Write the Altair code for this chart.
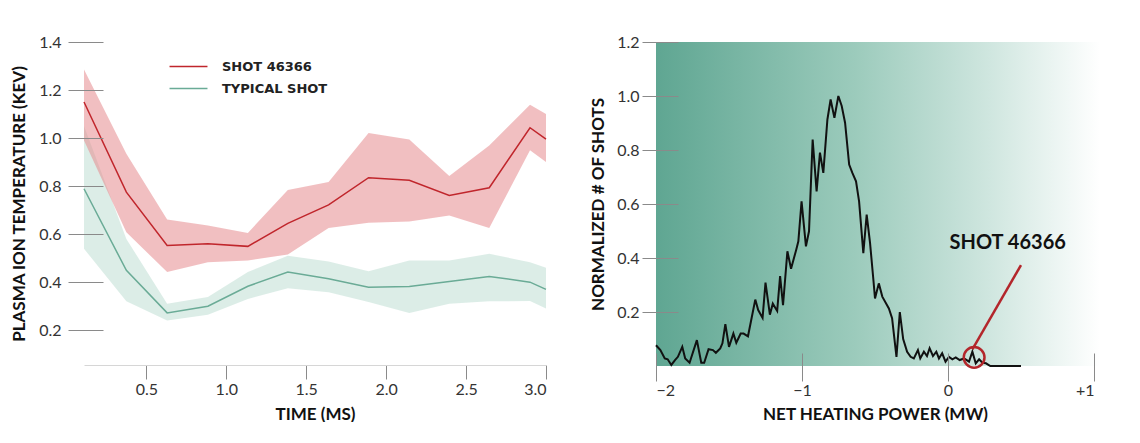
import altair as alt
import pandas as pd

# ---------------- left panel data ----------------
time_ms = [0.11, 0.375, 0.63, 0.885, 1.135, 1.385, 1.64, 1.89, 2.145, 2.395, 2.645, 2.9, 3.0]
shot_mean = [1.15, 0.775, 0.553, 0.56, 0.549, 0.645, 0.722, 0.835, 0.824, 0.761, 0.793, 1.043, 0.996]
shot_upper = [1.286, 0.935, 0.661, 0.636, 0.605, 0.784, 0.817, 1.021, 0.994, 0.842, 0.969, 1.139, 1.10]
shot_lower = [0.99, 0.608, 0.442, 0.483, 0.49, 0.515, 0.625, 0.647, 0.653, 0.678, 0.625, 0.949, 0.90]
typ_mean = [0.789, 0.449, 0.272, 0.30, 0.383, 0.442, 0.414, 0.379, 0.382, 0.403, 0.424, 0.40, 0.37]
typ_upper = [1.05, 0.58, 0.31, 0.338, 0.442, 0.51, 0.486, 0.445, 0.49, 0.49, 0.518, 0.483, 0.46]
typ_lower = [0.539, 0.32, 0.24, 0.264, 0.33, 0.375, 0.358, 0.317, 0.272, 0.31, 0.32, 0.321, 0.29]
series_names = ["SHOT 46366", "TYPICAL SHOT"]

# ---------------- right panel data ----------------
power_mw = [-2.0, -1.97, -1.94, -1.92, -1.895, -1.87, -1.85, -1.82, -1.80, -1.77,
            -1.72, -1.69, -1.67, -1.64, -1.61, -1.59, -1.56, -1.545, -1.525, -1.50,
            -1.47, -1.45, -1.42, -1.40, -1.37, -1.32, -1.30, -1.27, -1.25, -1.22,
            -1.20, -1.17, -1.15, -1.13, -1.10, -1.075, -1.04, -1.025, -1.003, -0.973,
            -0.952, -0.927, -0.90, -0.877, -0.854, -0.826, -0.804, -0.778, -0.751, -0.728,
            -0.705, -0.677, -0.655, -0.63, -0.609, -0.58, -0.557, -0.534, -0.51, -0.50,
            -0.474, -0.45, -0.405, -0.383, -0.353, -0.33, -0.307, -0.28, -0.256, -0.234,
            -0.206, -0.19, -0.165, -0.144, -0.126, -0.103, -0.08, -0.062, -0.04, -0.017,
            0.007, 0.03, 0.053, 0.08, 0.11, 0.144, 0.167, 0.19, 0.213, 0.236,
            0.26, 0.29, 0.50]
shots_norm = [0.077, 0.059, 0.028, 0.025, 0.004, 0.022, 0.034, 0.071, 0.028, 0.012,
              0.096, 0.012, 0.012, 0.062, 0.059, 0.049, 0.065, 0.084, 0.155, 0.071,
              0.12, 0.086, 0.12, 0.12, 0.11, 0.246, 0.207, 0.178, 0.309, 0.19,
              0.231, 0.204, 0.333, 0.225, 0.425, 0.36, 0.43, 0.462, 0.61, 0.443,
              0.499, 0.839, 0.647, 0.79, 0.715, 0.913, 0.987, 0.919, 1.0, 0.963,
              0.901, 0.746, 0.715, 0.684, 0.61, 0.418, 0.561, 0.456, 0.313, 0.25,
              0.306, 0.257, 0.213, 0.177, 0.034, 0.2, 0.1, 0.053, 0.034, 0.028,
              0.059, 0.028, 0.053, 0.037, 0.066, 0.037, 0.053, 0.028, 0.047, 0.016,
              0.034, 0.025, 0.032, 0.022, 0.028, 0.016, 0.053, 0.01, 0.025, 0.012,
              0.01, 0.0, 0.0]
bg_x, bg_x2, bg_y, bg_y2 = [-2.0], [1.04], [0.0], [1.2]
marker_x, marker_y = [0.179], [0.032]
pointer_x, pointer_y, pointer_x2, pointer_y2 = [0.167], [0.062], [0.50], [0.374]
label_x, label_y, label_text = [0.409], [0.456], ["SHOT 46366"]

RED = "#c0262c"
TEAL = "#6aab96"

# ---------------- left panel ----------------
band_df = pd.DataFrame({"t": time_ms, "su": shot_upper, "sl": shot_lower,
                        "tu": typ_upper, "tl": typ_lower})
line_df = pd.DataFrame({
    "t": time_ms + time_ms,
    "v": shot_mean + typ_mean,
    "series": [series_names[0]] * len(time_ms) + [series_names[1]] * len(time_ms),
})

xl = alt.X("t:Q", scale=alt.Scale(domain=[0.11, 3.0], nice=False, zero=False),
           axis=alt.Axis(title="TIME (MS)", values=[0.5, 1.0, 1.5, 2.0, 2.5, 3.0], format=".1f",
                         tickSize=14, labelPadding=2, titlePadding=9, domainColor="#d6d6d6"))
yl_scale = alt.Scale(domain=[0.055, 1.4], nice=False, zero=False)
yl_axis = alt.Axis(title="PLASMA ION TEMPERATURE (KEV)", values=[0.2, 0.4, 0.6, 0.8, 1.0, 1.2, 1.4],
                   format=".1f", domain=False, tickSize=35, offset=-19, labelPadding=7,
                   titlePadding=10, zindex=1)

typ_band = alt.Chart(band_df).mark_area(color="#8cc4b0", opacity=0.3).encode(
    x=xl, y=alt.Y("tl:Q", scale=yl_scale, axis=yl_axis), y2="tu:Q")
shot_band = alt.Chart(band_df).mark_area(color="#e58a8e", opacity=0.55).encode(
    x="t:Q", y="sl:Q", y2="su:Q")
lines = alt.Chart(line_df).mark_line(strokeWidth=1.5).encode(
    x="t:Q", y="v:Q",
    color=alt.Color("series:N", scale=alt.Scale(domain=series_names, range=[RED, TEAL]),
                    legend=alt.Legend(orient="none", legendX=98, legendY=18, title=None,
                                      symbolType="M-4,0L4,0", symbolSize=90,
                                      symbolStrokeWidth=1.5, labelOffset=27,
                                      labelFont="DejaVu Sans", labelFontSize=13,
                                      labelFontWeight="bold", labelColor="#222",
                                      rowPadding=8)),
    detail="series:N")

left = alt.layer(typ_band, shot_band, lines).properties(width=462, height=323)

# ---------------- right panel ----------------
hist_df = pd.DataFrame({"p": power_mw, "n": shots_norm})
bg_df = pd.DataFrame({"x": bg_x, "x2": bg_x2, "y": bg_y, "y2": bg_y2})
mk_df = pd.DataFrame({"x": marker_x, "y": marker_y})
ptr_df = pd.DataFrame({"x": pointer_x, "y": pointer_y, "x2": pointer_x2, "y2": pointer_y2})
lab_df = pd.DataFrame({"x": label_x, "y": label_y, "text": label_text})

xr_scale = alt.Scale(domain=[-2, 1], nice=False, zero=False)
yr_scale = alt.Scale(domain=[0, 1.2], nice=False, zero=False)
xr_axis = alt.Axis(title="NET HEATING POWER (MW)", values=[-2, -1, 0, 1],
                   labelExpr="datum.value > 0 ? '+' + datum.value : (datum.value < 0 ? '\u2212' + abs(datum.value) : '0')",
                   domain=False, tickSize=28, offset=-13, labelPadding=1, titlePadding=8, zindex=1)
yr_axis = alt.Axis(title="NORMALIZED # OF SHOTS", values=[0.2, 0.4, 0.6, 0.8, 1.0, 1.2], format=".1f",
                   domain=False, tickSize=36, offset=-22, labelPadding=3, titlePadding=9, zindex=1)

grad = alt.LinearGradient(gradient="linear", x1=0, x2=1, y1=0, y2=0, stops=[
    alt.GradientStop(color="#5fa692", offset=0),
    alt.GradientStop(color="#9ccbbc", offset=0.45),
    alt.GradientStop(color="#cfe6df", offset=0.75),
    alt.GradientStop(color="#ffffff", offset=1),
])
bg = alt.Chart(bg_df).mark_rect(color=grad).encode(
    x=alt.X("x:Q", scale=xr_scale, axis=xr_axis), x2="x2:Q",
    y=alt.Y("y:Q", scale=yr_scale, axis=yr_axis), y2="y2:Q")
hist = alt.Chart(hist_df).mark_line(color="#111111", strokeWidth=2).encode(x="p:Q", y="n:Q")
ptr = alt.Chart(ptr_df).mark_rule(color="#b3262b", strokeWidth=2.5).encode(
    x="x:Q", y="y:Q", x2="x2:Q", y2="y2:Q")
mk = alt.Chart(mk_df).mark_point(shape="circle", size=430, filled=False,
                                 color="#b3262b", strokeWidth=2.5, opacity=1).encode(x="x:Q", y="y:Q")
lab = alt.Chart(lab_df).mark_text(font="Lato", fontSize=20, fontWeight="bold", color="#111111").encode(
    x="x:Q", y="y:Q", text="text:N")

right = alt.layer(bg, hist, ptr, mk, lab).properties(width=438, height=324)

chart = alt.hconcat(left, right, spacing=40).properties(
    padding={"left": 2, "top": 26, "right": 0, "bottom": 0}
).configure_view(stroke=None).configure_axis(
    labelFont="Lato", titleFont="Lato", labelFontSize=16, titleFontSize=17,
    titleFontWeight="bold", titleColor="#111111", labelColor="#333333",
    tickColor="#8a8a8a", grid=False
)

chart.save("out.html", embed_options={"renderer": "svg", "actions": False})
